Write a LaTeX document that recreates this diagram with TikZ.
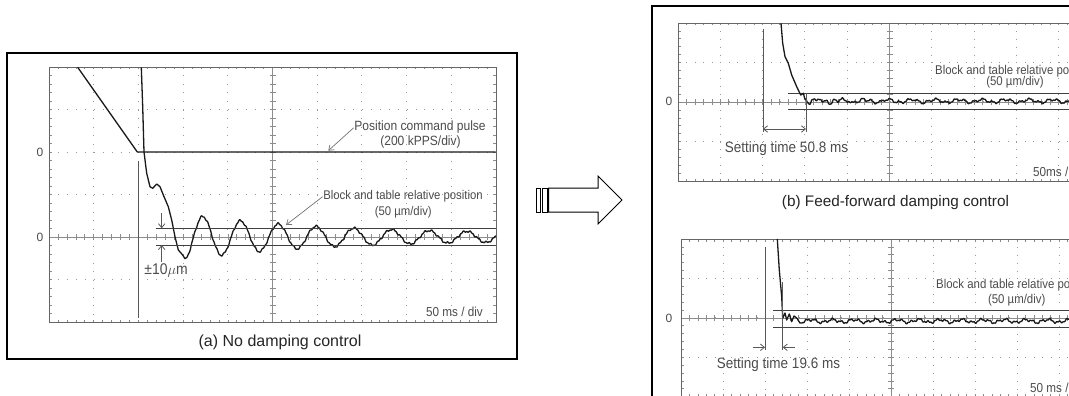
\documentclass[tikz,border=0pt]{standalone}
\usepackage{fontspec}
\setmainfont{Liberation Sans}
\newfontfamily\plotfont{Liberation Sans}[FakeStretch=0.9]
\usetikzlibrary{arrows.meta}

\tikzset{
  outframe/.style={draw=black, line width=1.9pt},
  plotbox/.style={draw=black!60, line width=0.9pt},
  griddot/.style={draw=black!40, line width=1pt, line cap=butt},
  gridaxis/.style={draw=black!45, line width=0.6pt},
  tracecurve/.style={draw=black!90, line width=1.3pt, line join=round},
  bandline/.style={draw=black!75, line width=1pt},
  markline/.style={draw=black!65, line width=0.8pt},
  barbtip/.style={-{Straight Barb[length=4pt,width=6.5pt]}},
  barbtips/.style={{Straight Barb[length=4pt,width=6.5pt]}-{Straight Barb[length=4pt,width=6.5pt]}},
  leaderline/.style={draw=black!55, line width=0.7pt, -{Straight Barb[length=4.5pt,width=6.5pt]}},
  lbl/.style={inner sep=0pt, text=black!70, font=\plotfont\fontsize{#1}{#1}\selectfont},
  zerolbl/.style={inner sep=0pt, text=black!70, font=\fontsize{12}{12}\selectfont},
  captxt/.style={inner sep=0pt, text=black!85, font=\fontsize{#1}{#1}\selectfont},
  blockarrow/.style={draw=black, line width=1pt, fill=white},
}

% oscilloscope graticule: x0, y0, dx, dy, number of rows, zero row
\newcommand\osgrid[6]{%
  \pgfmathsetmacro\gxr{#1+10*#3}%
  \pgfmathsetmacro\gyb{#2+#5*#4}%
  \pgfmathsetmacro\gmx{#3/5}%
  \pgfmathsetmacro\gmy{#4/5}%
  \pgfmathsetmacro\gox{#3/5-1}%
  \pgfmathsetmacro\goy{#4/5-1}%
  \pgfmathtruncatemacro\gnr{#5-1}%
  \pgfmathtruncatemacro\gnt{5*#5-1}%
  \pgfmathsetmacro\gcx{#1+5*#3}%
  \pgfmathsetmacro\gzy{#2+#6*#4}%
  \foreach \i in {1,2,3,4,6,7,8,9}
    \draw[griddot, dash pattern=on 1pt off \goy pt] ({#1+\i*#3},#2) -- ({#1+\i*#3},\gyb);
  \foreach \j in {1,...,\gnr}
    \draw[griddot, dash pattern=on 1pt off \gox pt] (#1,{#2+\j*#4}) -- (\gxr,{#2+\j*#4});
  \draw[gridaxis] (\gcx,#2) -- (\gcx,\gyb);
  \draw[gridaxis] (#1,\gzy) -- (\gxr,\gzy);
  \foreach \k in {1,...,\gnt}{
    \draw[gridaxis] ({\gcx-3},{#2+\k*\gmy}) -- ++(6,0);
    \draw[gridaxis] (#1,{#2+\k*\gmy}) -- ++(3,0);
    \draw[gridaxis] (\gxr,{#2+\k*\gmy}) -- ++(-3,0);
  }
  \foreach \k in {1,...,49}{
    \draw[gridaxis] ({#1+\k*\gmx},{\gzy-3}) -- ++(0,6);
    \draw[gridaxis] ({#1+\k*\gmx},#2) -- ++(0,2.5);
    \draw[gridaxis] ({#1+\k*\gmx},\gyb) -- ++(0,-2.5);
  }
  \draw[plotbox] (#1,#2) rectangle (\gxr,\gyb);
}

\begin{document}
\begin{tikzpicture}[x=1pt, y=-1pt,
  declare function={wsin(\t,\p)=sin(360*mod(\t,\p)/\p); wcos(\t,\p)=cos(360*mod(\t,\p)/\p);}]
\clip (0,0) rectangle (1069,396);
\fill[white] (0,0) rectangle (1069,396);

% ================= (a) left panel =================
\draw[outframe] (7,53) rectangle (517,359);
\osgrid{49}{67}{44.7}{42.5}{6}{4}

\node[zerolbl] (za1) at (40,152) {0};
\node[zerolbl] (za2) at (40,237) {0};

% position command pulse (ramp then flat)
\draw[tracecurve] (77.7,67.3) -- (137.3,152) -- (495.7,152);

% block and table relative position
\draw[tracecurve] (141.3,67.3) -- (142.7,106.7) -- (144,152) -- (146.7,173.3) -- (150,186.7)
  -- (152.7,188.3) -- (156.7,184) -- (160,186.7) -- (163.3,195) -- (168.3,206.7)
  -- (171.7,220) -- (175,236.7) -- (178.3,250) -- (182.7,255)
  -- plot[domain=185:496, samples=520]
     (\x, {237 - (3.5+15.5*exp(-(\x-215)/130))*wcos(\x-203,37.7) + 0.8*wsin(\x-180,7.7) + 0.5*wsin(\x-170,3.2)});

% +-10 um band
\draw[bandline] (156,228) -- (496,228);
\draw[bandline] (156,245) -- (496,245);
\coordinate (ua) at (161.7,213.3);
\coordinate (ub) at (161.7,228.3);
\coordinate (uc) at (161.7,261.7);
\coordinate (ud) at (161.7,245);
\draw[markline, barbtip] (ua) -- (ub);
\draw[markline, barbtip] (uc) -- (ud);
\node[lbl=15.5] (pm) at (166,270.5) {±10$\mu$m};

% start line
\coordinate (sa) at (138,161);
\coordinate (sb) at (138,318);
\draw[markline] (sa) -- (sb);

\node[lbl=13.4] (pcpA) at (420,127.3) {Position command pulse};
\node[lbl=13.4] (pcpB) at (420.5,141.7) {(200 kPPS/div)};
\coordinate (pcpT) at (328.3,150.7);
\draw[leaderline] ([xshift=-0.5pt,yshift=-0.5pt]pcpA.west) -- (pcpT);

\node[lbl=12.6] (btrA) at (403,196.7) {Block and table relative position};
\node[lbl=12.6] (btrB) at (403.3,212.7) {(50 µm/div)};
\coordinate (btrT) at (286,225);
\draw[leaderline] ([xshift=-0.5pt]btrA.west) -- (btrT);

\node[lbl=13, anchor=east] (msA) at (483,311.7) {50 ms / div};
\node[captxt=16] (capA) at (280,342.7) {(a) No damping control};

% ================= block arrow =================
\draw[blockarrow] (536,188) rectangle (540.5,212);
\draw[blockarrow] (542.5,188) rectangle (547,212);
\draw[blockarrow] (548.5,188) -- (598,188) -- (598,176) -- (622,200) -- (598,224)
  -- (598,212) -- (548.5,212) -- cycle;

% ================= (b) right panel =================
\draw[outframe] (652,6) rectangle (1090,420);

% --- top plot: feed-forward damping control
\osgrid{678}{23}{42.3}{39.5}{4}{2}
\node[zerolbl] (zb1) at (669,101.5) {0};
\draw[bandline] (788,94) -- (1069,94);
\draw[bandline] (788,109.3) -- (1069,109.3);
\draw[tracecurve] (781,23.3) -- (782.7,43.3) -- (785,56.7) -- (788.3,63.3) -- (791.7,75)
  -- (796.7,86.7) -- (800.7,95) -- (803.3,93.3)
  -- plot[domain=805:1069, samples=420]
     (\x, {101 + 1.5*wsin(\x-800,23.5) + 1.1*wsin(\x-790,9.3) + 0.5*wsin(\x-800,3.1) + 2.2*exp(-(\x-805)/40)*wsin(\x-800,7.2)});
\coordinate (t1a) at (763,29);
\coordinate (t1b) at (763,132);
\coordinate (t2a) at (806,93);
\coordinate (t2b) at (806,132);
\draw[markline] (t1a) -- (t1b);
\draw[markline] (t2a) -- (t2b);
\coordinate (t1m) at (763,129);
\coordinate (t2m) at (806,129);
\draw[markline, barbtips] (t1m) -- (t2m);
\node[lbl=15] (stA) at (786.5,148.3) {Setting time 50.8 ms};
\node[lbl=12.7, anchor=west] (btrC) at (935,71) {Block and table relative po};
\node[lbl=12.7] (btrD) at (1015,82.3) {(50 µm/div)};
\node[lbl=13, anchor=west] (msB) at (1033,172) {50ms /};
\node[captxt=15.3] (capB) at (895.5,203) {(b) Feed-forward damping control};

% --- bottom plot
\osgrid{681}{239}{42}{39.4}{4}{2}
\node[zerolbl] (zb2) at (669,318) {0};
\draw[bandline] (773,310) -- (1069,310);
\draw[bandline] (773,327) -- (1069,327);
\draw[tracecurve] (777.3,239) -- (779.3,270) -- (781.7,296.7) -- (782.7,318.3) -- (785,313)
  -- (786.7,320) -- (789.3,314) -- (791.7,321.7) -- (794,316) -- (796.7,318) -- (800,323)
  -- plot[domain=802:1069, samples=420]
     (\x, {321 + 1.4*wsin(\x-795,21.5) + 1.1*wsin(\x-800,8.7) + 0.6*wsin(\x-800,3.3)});
\coordinate (b1a) at (765,246.5);
\coordinate (b1b) at (765,349.5);
\coordinate (b2a) at (782.7,281.7);
\coordinate (b2b) at (782.7,349.5);
\draw[markline] (b1a) -- (b1b);
\draw[markline] (b2a) -- (b2b);
\coordinate (b1l) at (753,347.3);
\coordinate (b1r) at (765,347.3);
\coordinate (b2r) at (795,347.3);
\coordinate (b2l) at (782.7,347.3);
\draw[markline, barbtip] (b1l) -- (b1r);
\draw[markline, barbtip] (b2r) -- (b2l);
\node[lbl=15] (stB) at (778.5,364.3) {Setting time 19.6 ms};
\node[lbl=12.7, anchor=west] (btrE) at (936,285) {Block and table relative po};
\node[lbl=12.7] (btrF) at (1016.7,300.7) {(50 µm/div)};
\node[lbl=13, anchor=west] (msC) at (1030,387.7) {50 ms /};
\end{tikzpicture}
\end{document}
